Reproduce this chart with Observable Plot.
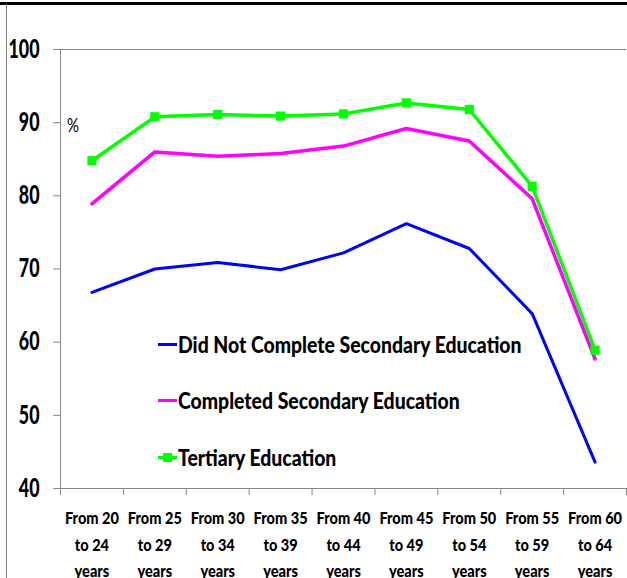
<!DOCTYPE html>
<html>
<head>
<meta charset="utf-8">
<script src="https://cdn.jsdelivr.net/npm/d3@7"></script>
<script src="https://cdn.jsdelivr.net/npm/@observablehq/plot@0.6"></script>
<style>
  html, body { margin: 0; padding: 0; background: #fff; }
  #wrap { position: relative; width: 627px; height: 578px; overflow: hidden; }
  #chart svg text { font-weight: 900; }
  .frameTop { position: absolute; left: 0; top: 2px; width: 627px; height: 3px; background: #000; }
  .frameLeft { position: absolute; left: 6px; top: 4px; width: 1px; height: 574px; background: #808080; }
  .pct { position: absolute; left: 67px; top: 112px; font: 20px Lato, "Liberation Sans", sans-serif; color: #000; transform-origin: 0 0; transform: scaleX(0.75); }
  .legend { position: absolute; left: 158px; top: 0; font-family: Lato, "Liberation Sans", sans-serif; font-weight: 900; font-size: 23.3px; color: #000; }
  .row { position: absolute; left: 0; height: 30px; white-space: nowrap; display: flex; align-items: center; }
  .swatch { position: relative; width: 19px; height: 3px; margin-right: 1px; flex: none; }
  .swatch .mk { position: absolute; left: 5px; top: -3px; width: 9px; height: 9px; background: #00ff00; }
  .row span { display: inline-block; transform-origin: 0 50%; }
</style>
</head>
<body>
<div id="wrap">
  <div id="chart"></div>
  <div class="frameTop"></div>
  <div class="frameLeft"></div>
  <div class="pct">%</div>
  <div class="legend" id="legend"></div>
</div>
<script>
const categories = [
  "From 20\nto 24\nyears", "From 25\nto 29\nyears", "From 30\nto 34\nyears",
  "From 35\nto 39\nyears", "From 40\nto 44\nyears", "From 45\nto 49\nyears",
  "From 50\nto 54\nyears", "From 55\nto 59\nyears", "From 60\nto 64\nyears"
];
const seriesNames = [
  "Did Not Complete Secondary Education",
  "Completed Secondary Education",
  "Tertiary Education"
];
const seriesColors = ["#0000ff", "#ff00ff", "#00ff00"];
const notCompleted = [66.8, 70.0, 70.9, 69.9, 72.2, 76.2, 72.8, 63.9, 43.6];
const completed = [78.9, 86.0, 85.4, 85.8, 86.8, 89.2, 87.5, 79.6, 57.7];
const tertiary = [84.8, 90.8, 91.1, 90.9, 91.2, 92.7, 91.8, 81.3, 58.9];
const yTicks = [40, 50, 60, 70, 80, 90, 100];

const idx = categories.map((_, i) => i);
const bounds = d3.range(categories.length + 1).map(i => i - 0.5);
const fontFamily = 'Lato, "Liberation Sans", sans-serif';
const axisGray = "#868686";

// horizontal squeeze factors so the text widths match the (horizontally compressed) reference
const ctx = document.createElement("canvas").getContext("2d");
function fitScale(text, size, target) {
  ctx.font = `900 ${size}px ${fontFamily}`;
  return target / ctx.measureText(text).width;
}
const yFont = 26, xFont = 17.7, legendFont = 23.3;
const yScale = fitScale("100", yFont, 31);
const xScale = fitScale("From 20", xFont, 54);
const legendScale = fitScale(seriesNames[0], legendFont, 344);

const chart = Plot.plot({
  width: 627,
  height: 578,
  marginLeft: 60,
  marginTop: 49,
  marginBottom: 90,
  marginRight: 1,
  style: { fontFamily, background: "transparent", overflow: "visible" },
  x: { type: "linear", domain: [-0.5, categories.length - 0.5], axis: null },
  y: { domain: [40, 100], axis: null },
  marks: [
    Plot.ruleY([100], { stroke: axisGray }),
    Plot.ruleY([40], { stroke: axisGray }),
    Plot.ruleX([-0.5], { stroke: axisGray }),
    Plot.axisY({ ticks: yTicks, tickSize: 7, tickPadding: 14, fontSize: yFont, stroke: axisGray, fill: "#000", tickFormat: d => String(d), className: "yax" }),
    Plot.axisX({ ticks: bounds, tickSize: 7, stroke: axisGray, tickFormat: () => "" }),
    Plot.axisX({ ticks: idx, tickSize: 0, tickPadding: 17, fontSize: xFont, lineHeight: 1.5, fill: "#000", tickFormat: i => categories[i], className: "xax" }),
    Plot.lineY(notCompleted, { x: (d, i) => i, y: d => d, stroke: seriesColors[0], strokeWidth: 3 }),
    Plot.lineY(completed, { x: (d, i) => i, y: d => d, stroke: seriesColors[1], strokeWidth: 3.5 }),
    Plot.lineY(tertiary, { x: (d, i) => i, y: d => d, stroke: seriesColors[2], strokeWidth: 3.5 }),
    Plot.dot(tertiary, { x: (d, i) => i, y: d => d, symbol: "square", r: 5.2, fill: seriesColors[2], stroke: "none" })
  ]
});

function squeeze(selector, s) {
  chart.querySelectorAll(selector).forEach(t => {
    let tr = t.getAttribute("transform");
    if (!tr) {
      const x = +(t.getAttribute("x") || 0), y = +(t.getAttribute("y") || 0);
      t.setAttribute("x", 0); t.setAttribute("y", 0);
      tr = `translate(${x},${y})`;
    }
    t.setAttribute("transform", `${tr} scale(${s},1)`);
  });
}
squeeze(".yax text", yScale);
squeeze(".xax text", xScale);
document.getElementById("chart").appendChild(chart);

const legend = document.getElementById("legend");
const legendTops = [329, 385, 442];
seriesNames.forEach((name, i) => {
  const row = document.createElement("div");
  row.className = "row";
  row.style.top = legendTops[i] + "px";
  const sw = document.createElement("div");
  sw.className = "swatch";
  sw.style.background = seriesColors[i];
  if (i === 2) {
    const mk = document.createElement("div");
    mk.className = "mk";
    sw.appendChild(mk);
  }
  const tx = document.createElement("span");
  tx.textContent = name;
  tx.style.transform = `scaleX(${legendScale})`;
  row.appendChild(sw);
  row.appendChild(tx);
  legend.appendChild(row);
});
</script>
</body>
</html>
